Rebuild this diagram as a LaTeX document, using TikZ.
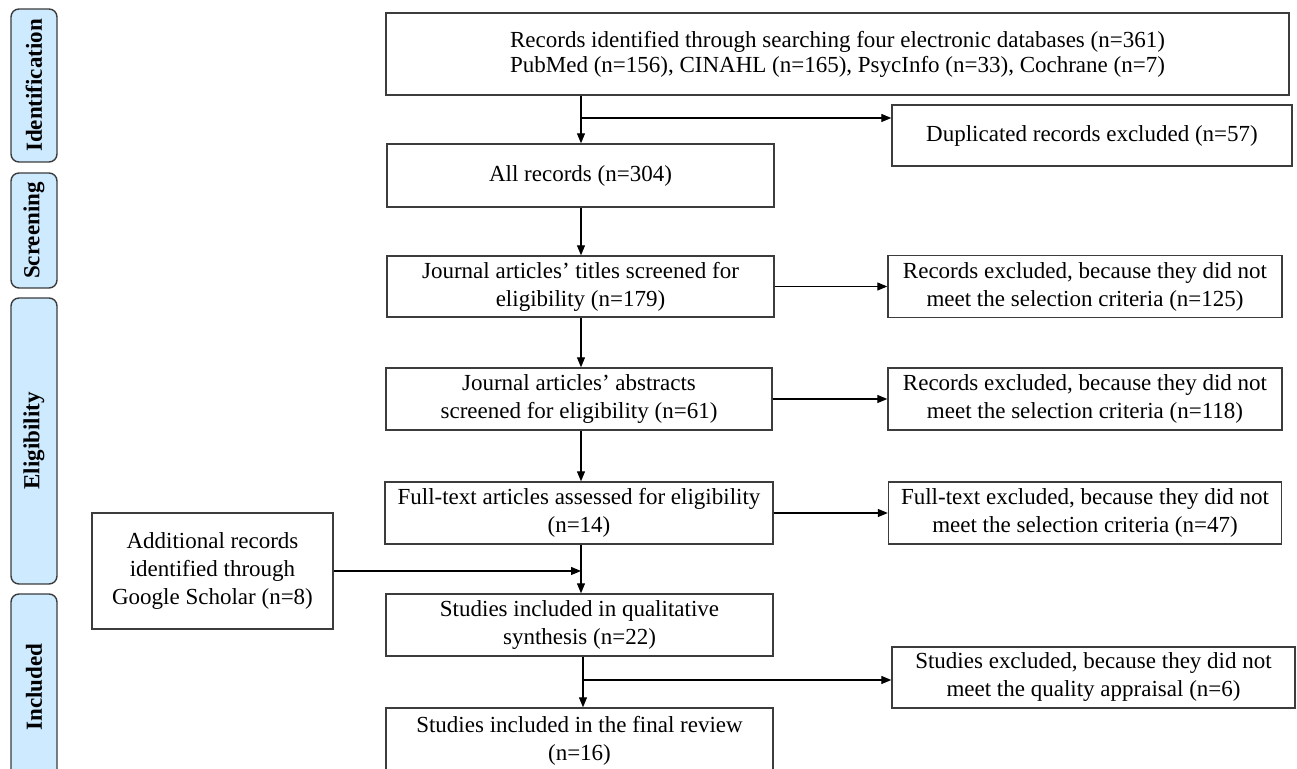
\documentclass[tikz,border=0pt]{standalone}
\usepackage{fontspec}
\setmainfont{Liberation Serif}
\usetikzlibrary{arrows.meta,positioning}
\definecolor{phaseblue}{RGB}{206,234,255}
\definecolor{framegray}{RGB}{60,60,60}

\begin{document}
\begin{tikzpicture}[x=0.5pt, y=-0.5pt,
    wh/.style 2 args={minimum width=#1*0.5pt, minimum height=#2*0.5pt},
    arr/.style={-{Triangle[length=5pt,width=4pt]}, line width=0.6pt}]
  \useasboundingbox (0,0) rectangle (1297,769);
  \clip (0,0) rectangle (1297,769);
  % phases on the left
  \begin{scope}[every node/.style={draw=framegray, line width=0.7pt, rounded corners=4pt,
      fill=phaseblue, rotate=90, inner sep=0pt, font=\fontsize{11.5}{13}\selectfont\bfseries}]
    \node[wh={153}{46}] (ident) at (34,85.5) {Identification};
    \node[wh={115}{46}] (screen) at (34,230.5) {Screening};
    \node[wh={286}{46}] (elig) at (34,441) {Eligibility};
    \node[wh={186}{46}] (incl) at (34,687) {Included};
  \end{scope}
  % boxes
  \begin{scope}[every node/.style={draw=framegray, line width=0.7pt, align=center,
      inner sep=0pt, font=\fontsize{11.5}{14}\selectfont}]
    \node[wh={903}{82}] (search) at (837.5,54)
      {Records identified through searching four electronic databases (n=361)\\[-1.5pt]
       PubMed (n=156), CINAHL (n=165), PsycInfo (n=33), Cochrane (n=7)};
    \node[wh={400}{61}] (dup) at (1092,135.5) {Duplicated records excluded (n=57)};
    \node[wh={387}{63}] (allrec) at (580.5,175.5) {All records (n=304)};
    \node[wh={387}{61}] (titles) at (580.5,286.5)
      {Journal articles’ titles screened for\\ eligibility (n=179)};
    \node[wh={394}{62}] (exctitle) at (1085,286.5)
      {Records excluded, because they did not\\ meet the selection criteria (n=125)};
    \node[wh={386}{62}] (abstr) at (579,399)
      {Journal articles’ abstracts\\ screened for eligibility (n=61)};
    \node[wh={394}{62}] (excabstr) at (1085,399)
      {Records excluded, because they did not\\ meet the selection criteria (n=118)};
    \node[wh={388}{62}] (fulltext) at (579,513)
      {Full-text articles assessed for eligibility\\ (n=14)};
    \node[wh={393}{62}] (excfull) at (1085,513)
      {Full-text excluded, because they did not\\ meet the selection criteria (n=47)};
    \node[wh={241}{116}] (scholar) at (212.5,571)
      {Additional records\\ identified through\\ Google Scholar (n=8)};
    \node[wh={387}{62}] (qual) at (579.5,625)
      {Studies included in qualitative\\ synthesis (n=22)};
    \node[wh={403}{61}] (excqual) at (1093.5,677.5)
      {Studies excluded, because they did not\\ meet the quality appraisal (n=6)};
    \node[wh={387}{66}] (final) at (579.5,741)
      {Studies included in the final review\\ (n=16)};
  \end{scope}
  % connectors
  \coordinate (jdup) at (581,118);
  \coordinate (jqual) at (583,680);
  \draw[line width=0.6pt] (search.south -| jdup) -- (jdup);
  \draw[arr] (jdup) -- (allrec.north -| jdup);
  \draw[arr] (jdup) -- (jdup -| dup.west);
  \draw[arr] (allrec.south -| jdup) -- (titles.north -| jdup);
  \draw[arr] (titles.east) -- (exctitle.west);
  \draw[arr] (titles.south -| jdup) -- (abstr.north -| jdup);
  \draw[arr] (abstr.east) -- (excabstr.west);
  \draw[arr] (abstr.south -| jdup) -- (fulltext.north -| jdup);
  \draw[arr] (fulltext.east) -- (excfull.west);
  \draw[arr] (fulltext.south -| jdup) -- (qual.north -| jdup);
  \draw[arr] (scholar.east) -- (scholar.east -| jdup);
  \draw[line width=0.6pt] (qual.south -| jqual) -- (jqual);
  \draw[arr] (jqual) -- (final.north -| jqual);
  \draw[arr] (jqual) -- (jqual -| excqual.west);
\end{tikzpicture}
\end{document}
